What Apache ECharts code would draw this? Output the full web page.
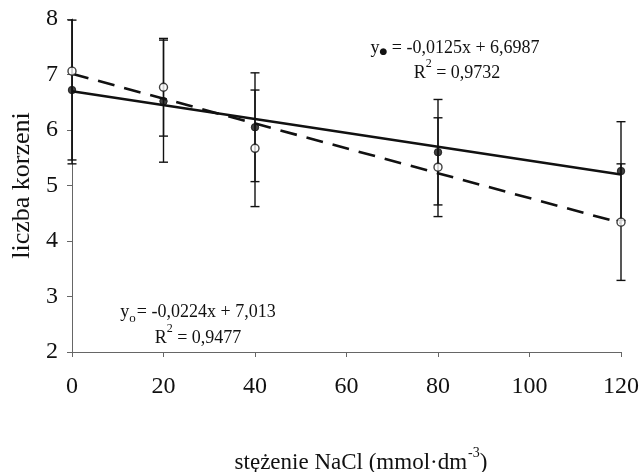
<!DOCTYPE html>
<html>
<head>
<meta charset="utf-8">
<script src="https://cdn.jsdelivr.net/npm/echarts@6/dist/echarts.min.js"></script>
<style>
  html, body { margin: 0; padding: 0; background: #fff; }
  #chart { width: 639px; height: 472px; }
</style>
</head>
<body>
<div id="chart"></div>
<script>
// NaCl concentration (mmol·dm-3)
const nacl = [0, 20, 40, 80, 120];

// Root count, filled markers (mean and standard deviation)
const rootsFilled = [6.72, 6.52, 6.05, 5.60, 5.26];
const sdFilled = [1.26, 1.10, 0.98, 0.95, 0.89];

// Root count, open markers (mean and standard deviation)
const rootsOpen = [7.06, 6.77, 5.67, 5.33, 4.34];
const sdOpen = [1.67, 0.88, 1.05, 0.89, 1.05];

// Linear trend coefficients [slope, intercept]
const trendFilled = [-0.0125, 6.6987];
const trendOpen = [-0.0224, 7.013];

const xTicks = { min: 0, max: 120, step: 20 };
const yTicks = { min: 2, max: 8, step: 1 };

const serif = '"Liberation Serif", "Times New Roman", serif';
const ink = '#111';

const trendPoints = (c) => [xTicks.min, xTicks.max].map(x => [x, c[0] * x + c[1]]);

const errorData = (means, sds) => nacl.map((x, i) => [x, means[i] - sds[i], means[i] + sds[i]]);

// Vertical error bar with caps, cut at the top/bottom of the plot area
function renderErrorBar(params, api) {
  const x = api.value(0);
  const lo = api.coord([x, api.value(1)]);
  const hi = api.coord([x, api.value(2)]);
  const cap = 4.5;
  const area = params.coordSys;
  const top = area.y, bottom = area.y + area.height;
  const children = [{
    type: 'line',
    shape: { x1: lo[0], y1: Math.min(lo[1], bottom), x2: hi[0], y2: Math.max(hi[1], top) },
    style: { stroke: ink, lineWidth: 1.4 }
  }];
  [lo, hi].forEach(p => {
    if (p[1] >= top - 0.5 && p[1] <= bottom + 0.5) {
      children.push({
        type: 'line',
        shape: { x1: p[0] - cap, y1: p[1], x2: p[0] + cap, y2: p[1] },
        style: { stroke: ink, lineWidth: 1.4 }
      });
    }
  });
  return { type: 'group', children };
}

const eqText = (size) => ({ fontFamily: serif, fontSize: size, fill: ink, lineHeight: 24, verticalAlign: 'bottom' });

const chart = echarts.init(document.getElementById('chart'), null, { renderer: 'canvas' });

chart.setOption({
  animation: false,
  backgroundColor: '#fff',
  grid: { left: 72, right: 18, top: 19, bottom: 120, containLabel: false, outerBoundsMode: 'none' },
  xAxis: {
    type: 'value',
    min: xTicks.min, max: xTicks.max, interval: xTicks.step,
    splitLine: { show: false },
    axisLine: { onZero: false, lineStyle: { color: '#666', width: 1 } },
    axisTick: { show: true, length: 5, lineStyle: { color: '#666' } },
    axisLabel: { margin: 23, fontFamily: serif, fontSize: 24, color: ink },
    name: '{a|stężenie NaCl (mmol·dm}{s|-3}{a|)}',
    nameLocation: 'middle',
    nameGap: 94,
    nameTextStyle: {
      padding: [0, 0, 0, 29],
      rich: {
        a: { fontFamily: serif, fontSize: 23, color: ink, lineHeight: 28, verticalAlign: 'bottom' },
        s: { fontFamily: serif, fontSize: 14, color: ink, lineHeight: 28, verticalAlign: 'top', padding: [0, 0, 10, 1] }
      }
    }
  },
  yAxis: {
    type: 'value',
    min: yTicks.min, max: yTicks.max, interval: yTicks.step,
    splitLine: { show: false },
    axisLine: { show: true, lineStyle: { color: '#666', width: 1 } },
    axisTick: { show: true, length: 5, lineStyle: { color: '#666' } },
    axisLabel: { margin: 14, fontFamily: serif, fontSize: 24, color: ink },
    name: 'liczba korzeni',
    nameLocation: 'middle',
    nameRotate: 90,
    nameGap: 37,
    nameTextStyle: { fontFamily: serif, fontSize: 26, color: ink }
  },
  series: [
    {
      name: 'trend-open', type: 'line', data: trendPoints(trendOpen),
      showSymbol: false, symbol: 'none',
      lineStyle: { color: ink, width: 2.6, type: [17, 10] }, z: 2
    },
    {
      name: 'trend-filled', type: 'line', data: trendPoints(trendFilled),
      showSymbol: false, symbol: 'none',
      lineStyle: { color: ink, width: 2.6 }, z: 2
    },
    {
      name: 'err-filled', type: 'custom', data: errorData(rootsFilled, sdFilled),
      renderItem: renderErrorBar, clip: false, z: 3
    },
    {
      name: 'err-open', type: 'custom', data: errorData(rootsOpen, sdOpen),
      renderItem: renderErrorBar, clip: false, z: 3
    },
    {
      name: 'filled', type: 'scatter', data: nacl.map((x, i) => [x, rootsFilled[i]]),
      symbol: 'circle', symbolSize: 7.5,
      itemStyle: { color: ink, borderColor: ink, borderWidth: 1 }, z: 4
    },
    {
      name: 'open', type: 'scatter', data: nacl.map((x, i) => [x, rootsOpen[i]]),
      symbol: 'circle', symbolSize: 8,
      itemStyle: { color: '#fff', borderColor: ink, borderWidth: 1.4 }, z: 5
    }
  ],
  graphic: [
    {
      type: 'text', x: 455, y: 45,
      style: {
        text: '{t|y}{b|●}{t| = -0,0125x + 6,6987}',
        align: 'center', verticalAlign: 'middle',
        rich: {
          t: eqText(18),
          b: { fontFamily: '"DejaVu Sans", sans-serif', fontSize: 9, fill: ink, lineHeight: 24, verticalAlign: 'bottom', padding: [0, 0, 1, 0] }
        }
      }
    },
    {
      type: 'text', x: 457, y: 70,
      style: {
        text: '{t|R}{s|2}{t| = 0,9732}',
        align: 'center', verticalAlign: 'middle',
        rich: {
          t: eqText(18),
          s: { fontFamily: serif, fontSize: 12, fill: ink, lineHeight: 24, verticalAlign: 'top' }
        }
      }
    },
    {
      type: 'text', x: 198, y: 309,
      style: {
        text: '{t|y}{o|o}{t|= -0,0224x + 7,013}',
        align: 'center', verticalAlign: 'middle',
        rich: {
          t: eqText(18),
          o: { fontFamily: serif, fontSize: 13, fill: ink, lineHeight: 24, verticalAlign: 'bottom', padding: [0, 1, -4, 0] }
        }
      }
    },
    {
      type: 'text', x: 198, y: 335,
      style: {
        text: '{t|R}{s|2}{t| = 0,9477}',
        align: 'center', verticalAlign: 'middle',
        rich: {
          t: eqText(18),
          s: { fontFamily: serif, fontSize: 12, fill: ink, lineHeight: 24, verticalAlign: 'top' }
        }
      }
    }
  ]
});
</script>
</body>
</html>
